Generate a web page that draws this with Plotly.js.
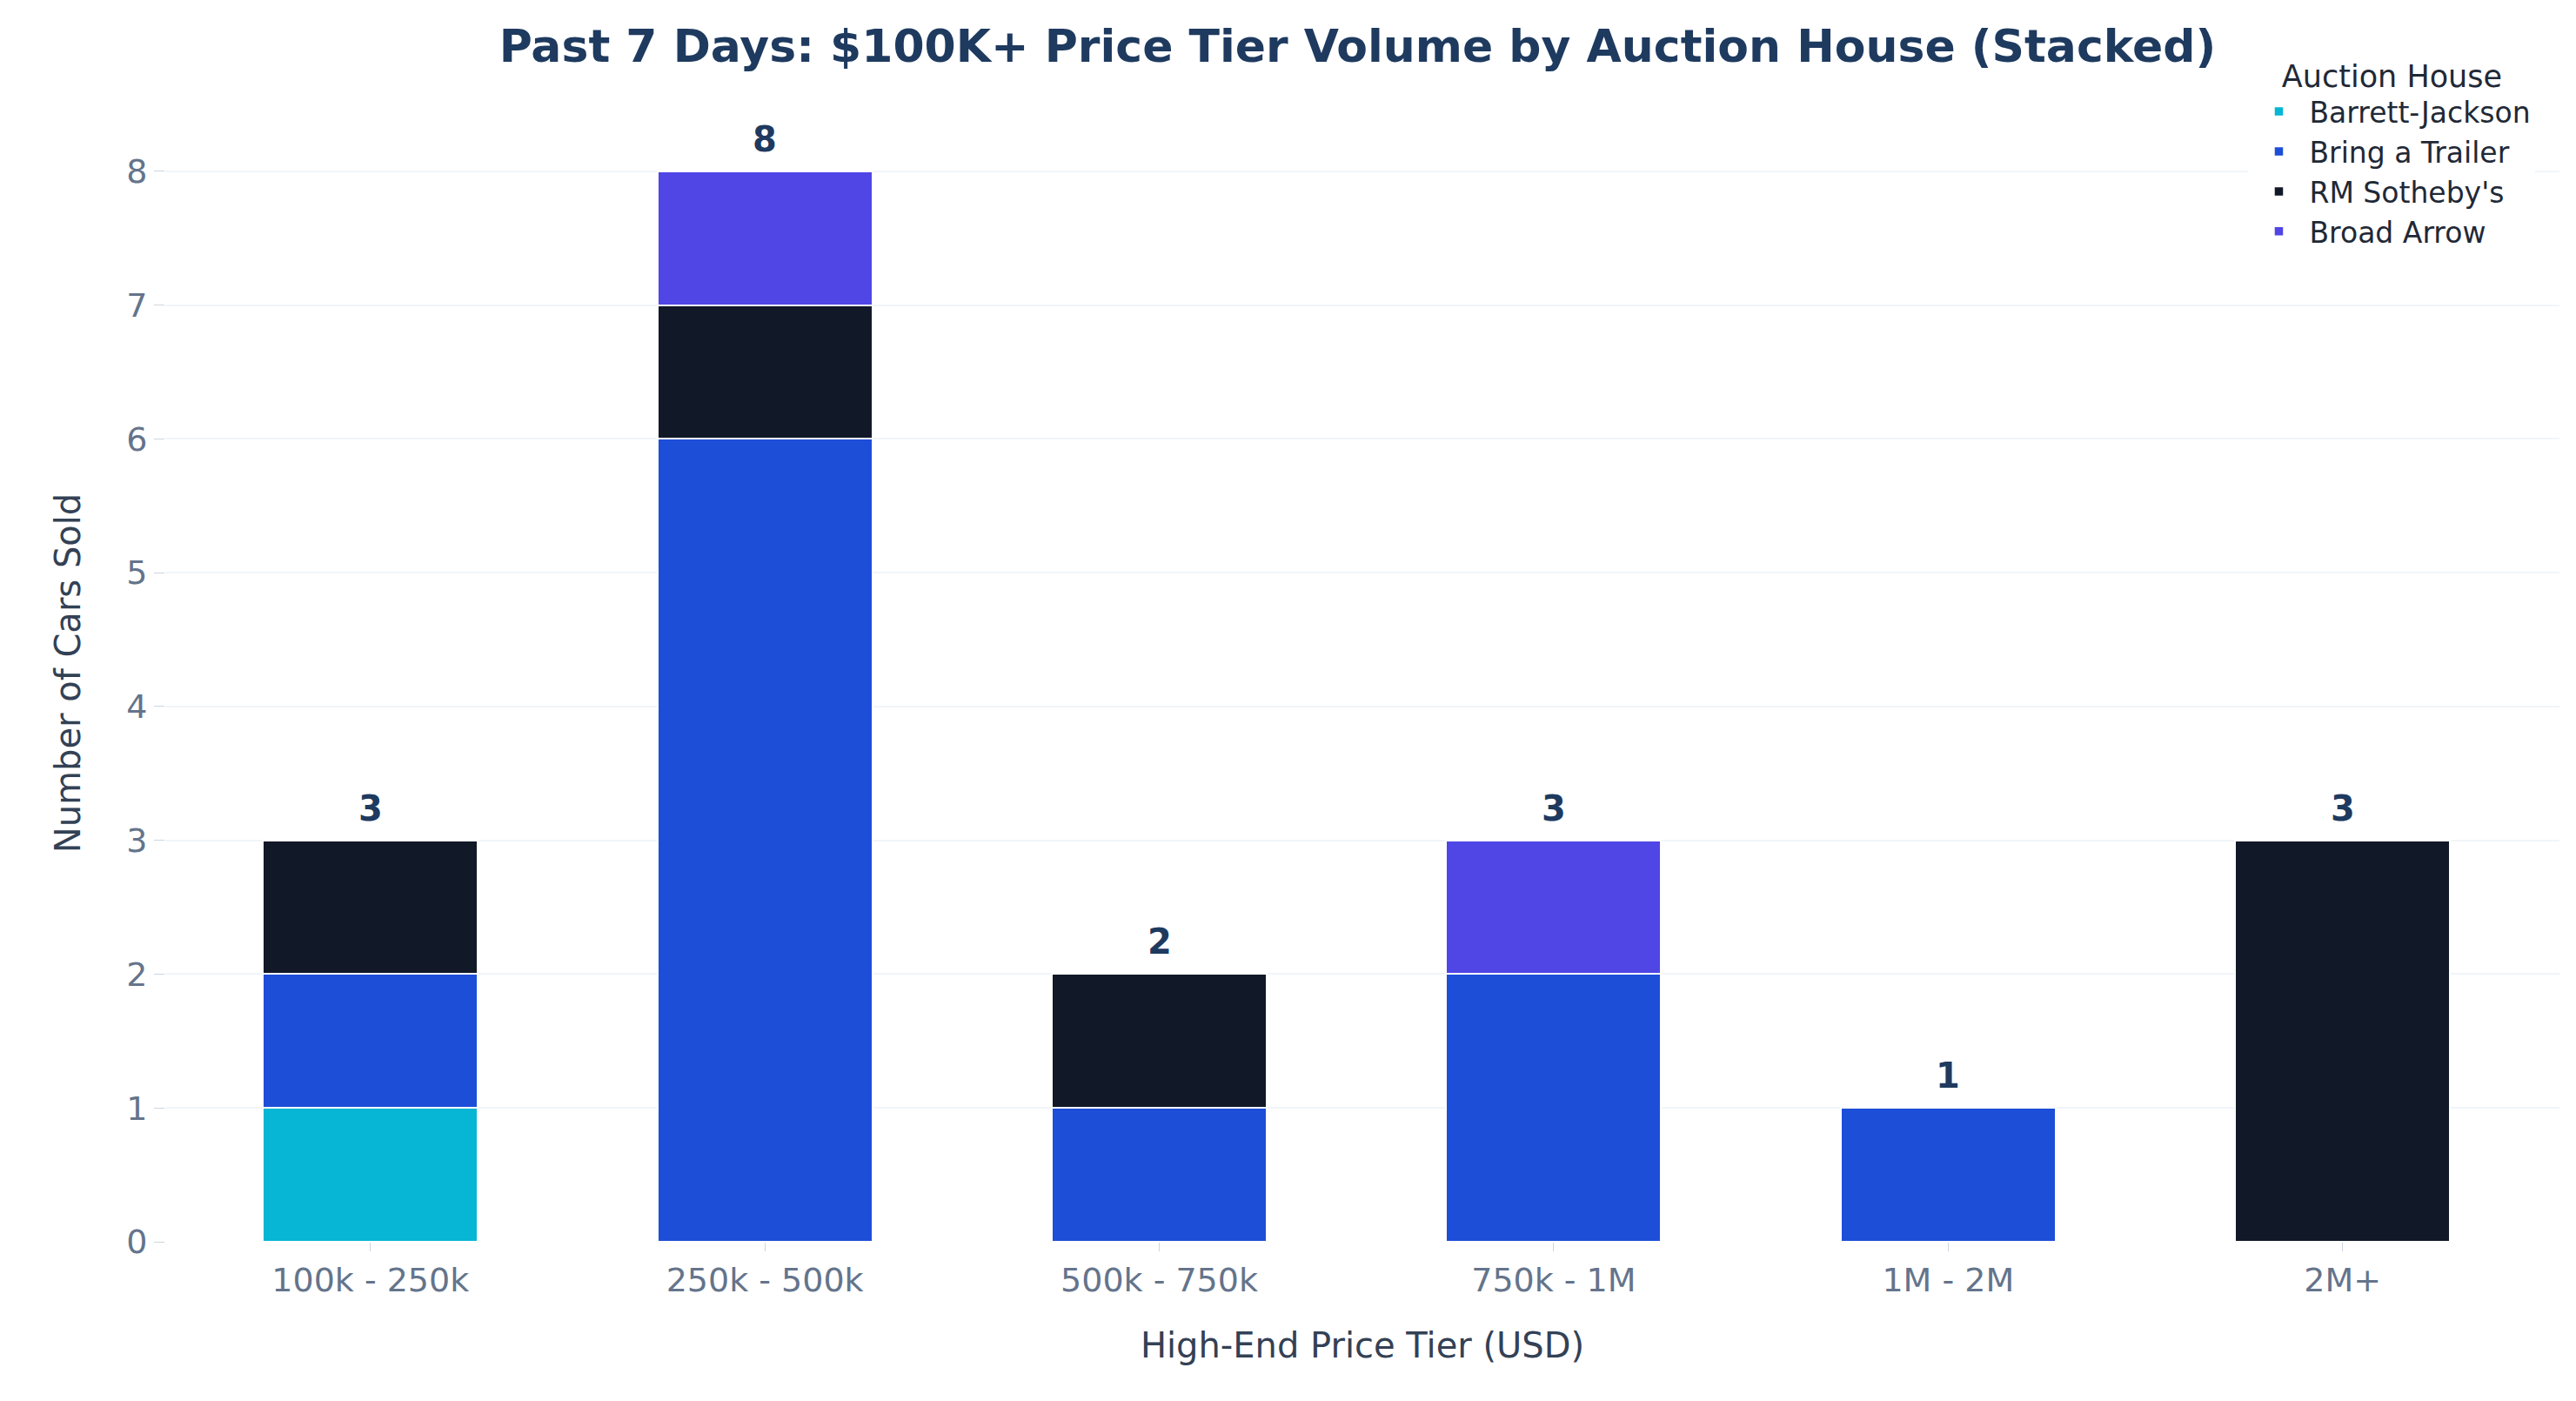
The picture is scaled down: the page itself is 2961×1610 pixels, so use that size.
<!DOCTYPE html>
<html><head><script src="https://cdn.plot.ly/plotly-3.0.1.min.js"></script>
<style>body{margin:0}</style></head><body><div id="c" style="width:2961px;height:1610px"></div>
<script>
const tiers = ["100k - 250k","250k - 500k","500k - 750k","750k - 1M","1M - 2M","2M+"];
const houses = ["Barrett-Jackson","Bring a Trailer","RM Sotheby's","Broad Arrow"];
const barrettJackson = [1,0,0,0,0,0];
const bringATrailer = [1,6,1,2,1,0];
const rmSothebys = [1,1,1,0,0,3];
const broadArrow = [0,1,0,1,0,0];
const colors = ["#06B6D4","#1D4ED8","#111827","#4F46E5"];
const series = [barrettJackson, bringATrailer, rmSothebys, broadArrow];
const totals = tiers.map((_,i)=>series.reduce((s,a)=>s+a[i],0));
const data = series.map((v,k)=>({type:'bar',name:houses[k],x:tiers,y:v,width:0.545,
  marker:{color:colors[k],line:{color:'#ffffff',width:2.5}}}));
const F = "DejaVu Sans";
const ann = tiers.map((t,i)=>({x:t,y:totals[i],text:'<b>'+totals[i]+'</b>',showarrow:false,yanchor:'bottom',yshift:12,
  font:{family:F,size:40,color:'#1e3a5f'}}));
Plotly.newPlot('c',data,{
  barmode:'stack',width:2961,height:1610,paper_bgcolor:'#fff',plot_bgcolor:'#fff',
  margin:{l:190,r:19,t:120,b:183},
  title:{text:'<b>Past 7 Days: $100K+ Price Tier Volume by Auction House (Stacked)</b>',x:0.527,xanchor:'center',y:0.967,yanchor:'middle',
    font:{family:F,size:52,color:'#1e3a5f'}},
  font:{family:F},
  xaxis:{range:[-0.52,5.55],showgrid:false,zeroline:false,ticks:'outside',ticklen:10,tickcolor:'#cbd5e1',
    tickfont:{size:38,color:'#64748b'},title:{text:'High-End Price Tier (USD)',font:{size:40,color:'#334155'},standoff:40}},
  yaxis:{range:[0,8.5],dtick:1,gridcolor:'#f1f5f9',gridwidth:2,zeroline:false,ticks:'outside',ticklen:12,tickcolor:'#cbd5e1',
    tickfont:{size:38,color:'#64748b'},title:{text:'Number of Cars Sold',font:{size:40,color:'#334155'},standoff:40}},
  legend:{x:0.99,xanchor:'right',y:1.05,yanchor:'top',traceorder:'normal',font:{size:33,color:'#1f2937'},
    title:{text:'Auction House',font:{size:35,color:'#1f2937'},side:'top center'},itemwidth:60,tracegroupgap:4},
  annotations:ann, bargap:0
},{displayModeBar:false});
</script></body></html>
